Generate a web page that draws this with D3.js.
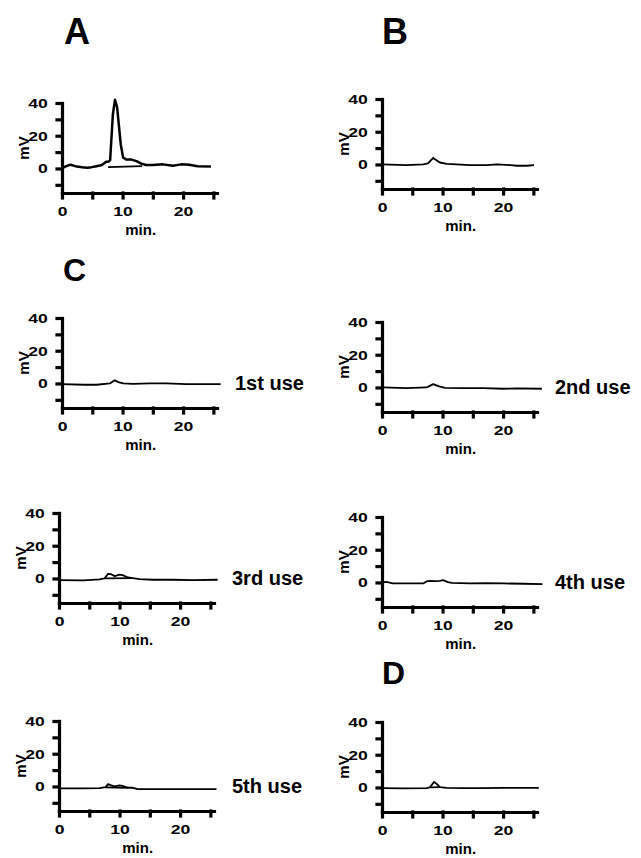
<!DOCTYPE html>
<html lang="en">
<head>
  <meta charset="UTF-8">
  <title>Chromatograms - column reuse</title>
  <script src="https://d3js.org/d3.v7.min.js"></script>
  <style>
    body { margin: 0; background: #fff; }
    svg { display: block; }
    text { font-family: "Liberation Sans", Arial, sans-serif; font-weight: bold; fill: #000; }
    .axis text { font-size: 13.5px; }
    .trace { fill: none; stroke: #000; stroke-width: 1.8; stroke-linejoin: round; }
  </style>
</head>
<body>
  <svg width="641" height="858"></svg>

  <script>
    // traces: [minutes, mV]
    const traceA = [[0,0],[0.55,1.2],[1.4,2.3],[2.2,1.4],[3.3,0.8],[4.2,0.4],[4.9,0.8],[5.7,1.4],[6.6,2.1],[7.3,4.1],[7.7,4.3],
      [7.95,5],[8.4,33],[8.75,42],[9.1,37.5],[9.7,14.8],[10.1,6.6],[10.65,5.4],[11.5,5.4],[12.3,4.5],[13.1,2.9],[13.9,2.1],
      [15,2.1],[16.7,2.5],[18.3,1.6],[19.7,2.5],[21,2.3],[22.4,1.4],[24.6,1.2]];
    const dropA = [[7.6,0.8],[13.2,1.4]];

    const traceB = [[0,0],[4,-0.4],[6.8,0],[7.6,0.6],[8.45,4],[9,2.6],[9.55,1.2],[10.7,0.4],[12.3,0],[14.5,-0.4],
      [17.3,-0.4],[19,0],[21.2,-0.4],[22.3,-0.8],[23.9,-0.8],[25.1,-0.4]];

    const trace1st = [[0,-0.4],[3.55,-0.8],[5.7,-0.8],[7.9,0],[8.7,2],[9.3,0.8],[10.1,0],[11.7,-0.2],[14.5,0],
      [17.2,0],[20.5,-0.4],[26.2,-0.4]];

    const trace2nd = [[0.15,0],[4,-0.4],[7.35,0],[7.9,1],[8.45,2],[9.3,0.8],[10.4,-0.2],[13.4,-0.4],[16.7,-0.4],
      [20,-0.8],[22.3,-0.6],[26.4,-0.8]];

    const trace3rd = [[0.1,-1],[4,-1.2],[6.7,-0.6],[7.5,0],[8.1,2.8],[8.6,2.6],[9.2,1.4],[10,2.4],[10.5,2],[11.4,0.6],
      [12.2,0.2],[13.3,-0.4],[15.5,-0.8],[18.8,-0.8],[22.1,-1],[26.2,-0.8]];
    const drop3rd = [[7.6,0],[12,0.2]];

    const trace4th = [[0.2,0],[0.7,0.4],[1.8,-0.6],[6.8,-0.6],[7.35,0.6],[7.9,1],[8.7,0.8],[9.55,1],[10.1,1.4],[10.9,0.2],
      [11.5,-0.2],[14.5,-0.6],[17.3,-0.4],[20,-0.6],[23.4,-0.8],[26.5,-1]];

    const trace5th = [[0.1,-1.2],[4,-1.2],[6.7,-1],[7.7,-0.4],[8.1,1.4],[8.5,0.8],[9.2,0],[10,0.6],[10.5,0.4],[11.4,-0.8],
      [12.2,-0.8],[13,-1.6],[14.9,-1.6],[18.8,-1.6],[22.1,-1.6],[26,-1.6]];
    const drop5th = [[7.6,-0.6],[11.4,-0.8]];

    const traceD = [[0.15,-0.4],[3.5,-0.6],[7.35,-0.4],[7.9,0],[8.6,3.4],[9.1,2],[9.55,0.2],[10.7,-0.2],[13.4,-0.4],
      [16.7,-0.4],[20,-0.2],[25.9,-0.2]];
    const dropD = [[7.9,0],[9.6,0.2]];

    const yTicks = [-10, 0, 10, 20, 30, 40];
    const yLabels = [0, 20, 40];
    const xTicks = [0, 5, 10, 15, 20, 25];
    const xLabels = [0, 10, 20];

    // panel layout: left = y axis x, top = y pixel of 40 mV
    const panels = [
      { trace: traceA,   drop: dropA,   left: 62,  top: 103, side: null, lineWidth: 2.5 },
      { trace: traceB,   drop: null,    left: 382, top: 99,  side: null },
      { trace: trace1st, drop: null,    left: 62,  top: 318, side: "1st use" },
      { trace: trace2nd, drop: null,    left: 382, top: 322, side: "2nd use" },
      { trace: trace3rd, drop: drop3rd, left: 59,  top: 513, side: "3rd use" },
      { trace: trace4th, drop: null,    left: 382, top: 517, side: "4th use" },
      { trace: trace5th, drop: drop5th, left: 59,  top: 721, side: "5th use" },
      { trace: traceD,   drop: dropD,   left: 382, top: 722, side: null }
    ];

    const letters = [
      { t: "A", x: 64,  y: 44,  size: 36 },
      { t: "B", x: 382, y: 44,  size: 36 },
      { t: "C", x: 63,  y: 281, size: 32 },
      { t: "D", x: 382, y: 684, size: 32 }
    ];

    const svg = d3.select("svg");
    const plotH = 90;
    const plotW = 155;

    letters.forEach(l => {
      svg.append("text")
        .attr("x", l.x)
        .attr("y", l.y)
        .style("font-size", l.size + "px")
        .text(l.t);
    });

    function styleAxis(sel) {
      sel.selectAll("path, line")
        .style("stroke", "#000")
        .style("stroke-width", "3.2px")
        .style("stroke-linecap", "square");
      sel.selectAll("text").attr("transform", "scale(1.3,1)");
    }

    panels.forEach(p => {
      const g = svg.append("g").attr("transform", `translate(${p.left},${p.top})`);

      const x = d3.scaleLinear().domain([0, 25.6]).range([0, plotW]);
      const y = d3.scaleLinear().domain([-15, 40]).range([plotH, 0]);

      const line = d3.line().x(d => x(d[0])).y(d => y(d[1]));

      // traces
      g.append("path")
        .datum(p.trace)
        .attr("class", "trace")
        .style("stroke-width", (p.lineWidth || 1.8) + "px")
        .attr("d", line);

      if (p.drop) {
        g.append("path")
          .datum(p.drop)
          .attr("class", "trace")
          .attr("d", line);
      }

      // y axis
      g.append("g")
        .attr("class", "axis")
        .call(d3.axisLeft(y)
          .tickValues(yTicks)
          .tickSize(5)
          .tickSizeOuter(0)
          .tickPadding(6)
          .tickFormat(d => yLabels.includes(d) ? d : ""))
        .call(styleAxis);

      // x axis
      g.append("g")
        .attr("class", "axis")
        .attr("transform", `translate(0,${plotH})`)
        .call(d3.axisBottom(x)
          .tickValues(xTicks)
          .tickSize(5)
          .tickSizeOuter(0)
          .tickPadding(8)
          .tickFormat(d => xLabels.includes(d) ? d : ""))
        .call(styleAxis);

      // axis titles
      g.append("text")
        .attr("transform", `translate(-38,${y(12.5)}) rotate(-90)`)
        .attr("text-anchor", "middle")
        .attr("dy", "0.35em")
        .style("font-size", "15px")
        .text("mV");

      g.append("text")
        .attr("x", x(13))
        .attr("y", plotH + 42)
        .attr("text-anchor", "middle")
        .style("font-size", "15px")
        .text("min.");

      if (p.side) {
        g.append("text")
          .attr("x", 173)
          .attr("y", y(0) + 7)
          .style("font-size", "20px")
          .text(p.side);
      }
    });
  </script>
</body>
</html>
